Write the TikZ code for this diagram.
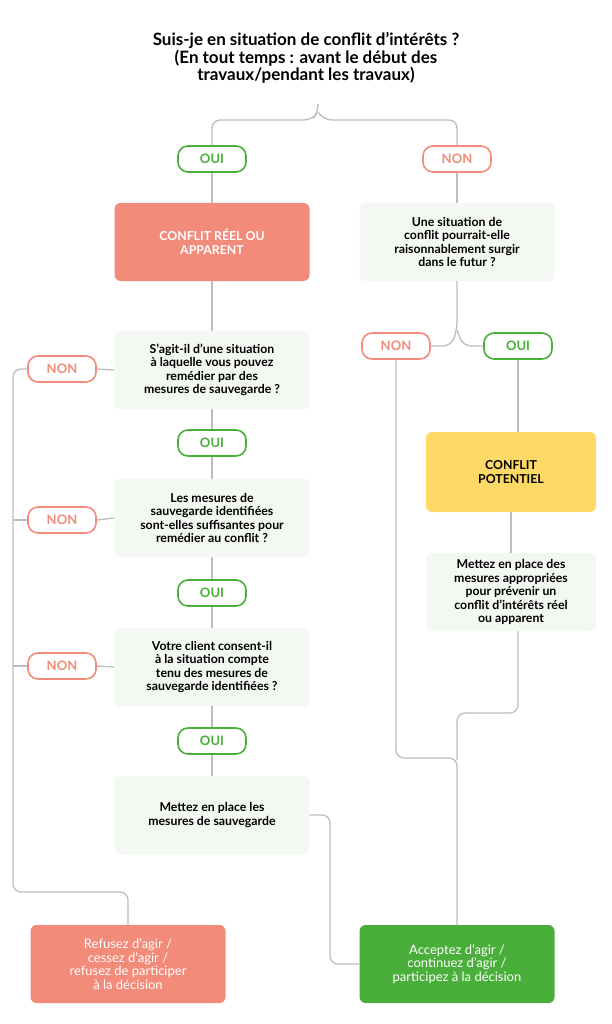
\documentclass[tikz,border=0pt]{standalone}
\usepackage{fontspec}
\setmainfont{Lato}
\usetikzlibrary{positioning}
\definecolor{salmon}{HTML}{F28B79}
\definecolor{vert}{HTML}{4AAE3A}
\definecolor{jaune}{HTML}{FFD966}
\definecolor{pale}{HTML}{F4F8F2}
\definecolor{trait}{HTML}{BDBDBD}
\tikzset{
  box/.style={rounded corners=6pt, minimum width=195pt, minimum height=78pt, align=center, font=\bfseries\fontsize{12.3}{13.5}\selectfont},
  question/.style={box, fill=pale, draw=pale!80!black!10},
  oui/.style={draw=vert, line width=1.6pt, rounded corners=10pt, fill=white, text=vert, minimum width=68pt, minimum height=26pt, font=\bfseries\fontsize{13}{14}\selectfont},
  non/.style={oui, draw=salmon, text=salmon},
  link/.style={draw=trait, line width=1.3pt, rounded corners=8pt}
}
\begin{document}
\begin{tikzpicture}[x=1pt,y=-1pt]
  \useasboundingbox (0,0) rectangle (612,1024);
  \node[align=center, font=\bfseries\fontsize{17}{17.5}\selectfont] (titre) at (306,58)
    {Suis-je en situation de conflit d’intérêts ?\\(En tout temps : avant le début des\\travaux/pendant les travaux)};
  % branche gauche
  \node[oui] (oui1) at (212,159) {OUI};
  \node[box, fill=salmon, text=white] (reel) at (212,242) {CONFLIT RÉEL OU\\APPARENT};
  \node[question] (q1) at (212,370) {S’agit-il d’une situation\\à laquelle vous pouvez\\remédier par des\\mesures de sauvegarde ?};
  \node[non] (non3) at (62,369) {NON};
  \node[oui] (oui3) at (212,443) {OUI};
  \node[question] (q2) at (212,518) {Les mesures de\\sauvegarde identifiées\\sont-elles suffisantes pour\\remédier au conflit ?};
  \node[non] (non4) at (62,520) {NON};
  \node[oui] (oui4) at (212,593) {OUI};
  \node[question] (q3) at (212,667) {Votre client consent-il\\à la situation compte\\tenu des mesures de\\sauvegarde identifiées ?};
  \node[non] (non5) at (62,666) {NON};
  \node[oui] (oui5) at (212,741) {OUI};
  \node[question] (sauv) at (212,815) {Mettez en place les\\mesures de sauvegarde};
  \node[box, fill=salmon, text=white, font=\fontsize{13}{13.5}\selectfont] (refus) at (128,964) {Refusez d’agir /\\cessez d’agir /\\refusez de participer\\à la décision};
  % branche droite
  \node[non] (non1) at (457,159) {NON};
  \node[question] (futur) at (457,242) {Une situation de\\conflit pourrait-elle\\raisonnablement surgir\\dans le futur ?};
  \node[non] (non2) at (396,346) {NON};
  \node[oui] (oui2) at (518,346) {OUI};
  \node[box, fill=jaune, minimum width=170pt, minimum height=80pt] (pot) at (511,472) {CONFLIT\\POTENTIEL};
  \node[question, minimum width=170pt] (prev) at (511,592) {Mettez en place des\\mesures appropriées\\pour prévenir un\\conflit d’intérêts réel\\ou apparent};
  \node[box, fill=vert, text=white, font=\fontsize{13}{13.5}\selectfont] (accept) at (457,964) {Acceptez d’agir /\\continuez d’agir /\\participez à la décision};
  % liens
  \begin{scope}[on background layer/.try]
  \draw[link] (318,104) -- (318,112) -- (312,120) -- (212,120) -- (oui1.north);
  \draw[link] (318,112) -- (324,120) -- (457,120) -- (non1.north);
  \draw[link] (oui1) -- (reel) -- (q1) -- (oui3) -- (q2) -- (oui4) -- (q3) -- (oui5) -- (sauv);
  \draw[link] (non1) -- (futur);
  \draw[link] (futur.south) -- (457,330) -- (451,346) -- (non2.east);
  \draw[link] (457,330) -- (463,346) -- (oui2.west);
  \draw[link] (oui2.south) -- (518,432);
  \draw[link] (pot.south) -- (prev.north);
  \draw[link] (q1.west) -- (non3.east);
  \draw[link] (q2.west) -- (non4.east);
  \draw[link] (q3.west) -- (non5.east);
  \draw[link] (non3.west) -- (13,369) -- (13,892) -- (128,892) -- (refus.north);
  \draw[link] (non4.west) -- (13,520);
  \draw[link] (non5.west) -- (13,666);
  \draw[link] (non2.south) -- (396,758) -- (457,758) -- (accept.north);
  \draw[link] (518,631) -- (518,713) -- (457,713) -- (457,760);
  \draw[link] (sauv.east) -- (330,815) -- (330,964) -- (accept.west);
  \end{scope}
\end{tikzpicture}
\end{document}
